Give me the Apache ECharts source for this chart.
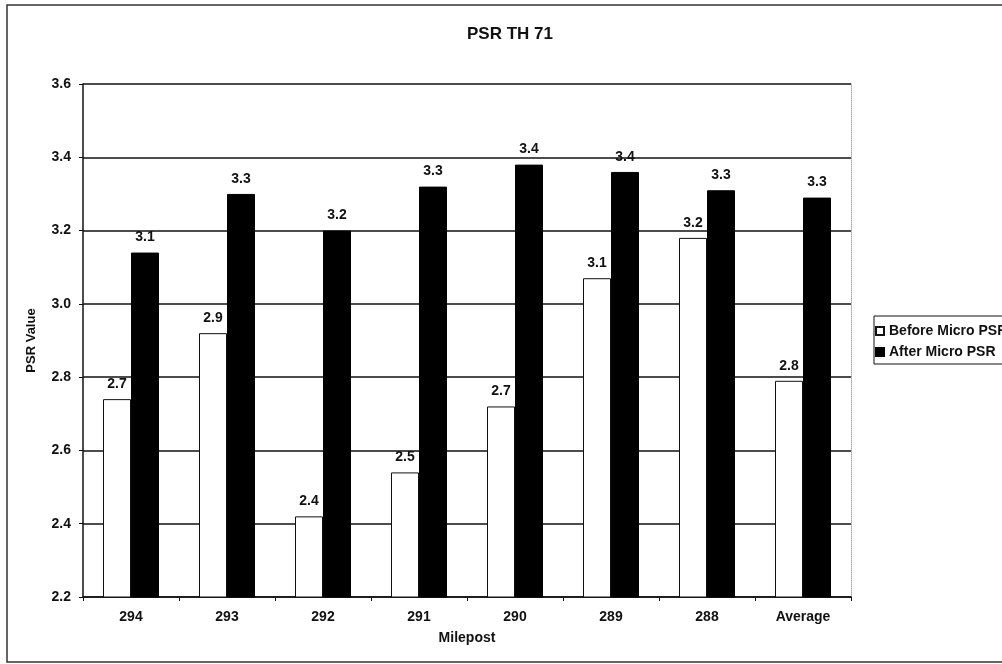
<!DOCTYPE html>
<html>
<head>
<meta charset="utf-8">
<script src="https://cdn.jsdelivr.net/npm/echarts@6/dist/echarts.min.js"></script>
<style>
  html, body { margin: 0; padding: 0; background: #fff; }
  #chart { width: 1002px; height: 664px; }
</style>
</head>
<body>
<div id="chart"></div>
<script>
// Mileposts along TH 71 plus the overall average
const categories = ['294', '293', '292', '291', '290', '289', '288', 'Average'];
// PSR ratings before and after the micro-surfacing treatment
const beforeValues = [2.74, 2.92, 2.42, 2.54, 2.72, 3.07, 3.18, 2.79];
const afterValues = [3.14, 3.30, 3.20, 3.32, 3.38, 3.36, 3.31, 3.29];
const seriesNames = ['Before Micro PSR', 'After Micro PSR'];
const yTicks = { min: 2.2, max: 3.6, step: 0.2 };

const FONT = '"Liberation Sans", Arial, sans-serif';
const chart = echarts.init(document.getElementById('chart'), null, { renderer: 'canvas' });

const valueLabel = {
  show: true,
  position: 'top',
  distance: 8,
  color: '#111',
  fontFamily: FONT,
  fontWeight: 'bold',
  fontSize: 14,
  formatter: p => p.value.toFixed(1)
};

chart.setOption({
  backgroundColor: '#fff',
  animation: false,
  title: {
    text: 'PSR TH 71',
    left: 505,
    top: 21,
    textAlign: 'center',
    textStyle: { fontFamily: FONT, fontWeight: 'bold', fontSize: 17, color: '#111' }
  },
  legend: {
    orient: 'vertical',
    left: 874,
    top: 316,
    padding: [8, 1, 5, 1],
    itemGap: 7,
    itemWidth: 8,
    itemHeight: 8,
    borderColor: '#111',
    borderWidth: 1,
    icon: 'rect',
    textStyle: { fontFamily: FONT, fontWeight: 'bold', fontSize: 14, color: '#111' },
    data: seriesNames
  },
  graphic: [{
    type: 'rect',
    silent: true,
    shape: { x: 7, y: 5, width: 1100, height: 657 },
    style: { fill: null, stroke: '#333', lineWidth: 1.5 }
  }],
  grid: { left: 83, right: 151, top: 84, bottom: 67 },
  xAxis: {
    type: 'category',
    data: categories,
    name: 'Milepost',
    nameLocation: 'middle',
    nameGap: 34,
    nameTextStyle: { fontFamily: FONT, fontWeight: 'bold', fontSize: 14, color: '#111' },
    axisLine: { lineStyle: { color: '#111', width: 1.5 } },
    axisTick: { show: true, length: 4, lineStyle: { color: '#111' } },
    axisLabel: { margin: 13, fontFamily: FONT, fontWeight: 'bold', fontSize: 14, color: '#111' }
  },
  yAxis: [{
    type: 'value',
    min: yTicks.min,
    max: yTicks.max,
    interval: yTicks.step,
    name: 'PSR Value',
    nameLocation: 'middle',
    nameGap: 45,
    nameTextStyle: { fontFamily: FONT, fontWeight: 'bold', fontSize: 13, color: '#111' },
    axisLine: { show: true, lineStyle: { color: '#111', width: 1.5 } },
    axisTick: { show: true, length: 4, lineStyle: { color: '#111' } },
    axisLabel: {
      margin: 12,
      fontFamily: FONT, fontWeight: 'bold', fontSize: 14, color: '#111',
      formatter: v => v.toFixed(1)
    },
    splitLine: { show: true, lineStyle: { color: '#111', width: 1.5 } }
  }, {
    type: 'value',
    position: 'right',
    min: yTicks.min,
    max: yTicks.max,
    interval: yTicks.step,
    axisLine: { show: true, lineStyle: { color: '#aaa', type: 'dotted', width: 1 } },
    axisTick: { show: false },
    axisLabel: { show: false },
    splitLine: { show: false }
  }],
  series: [{
    name: seriesNames[0],
    type: 'bar',
    data: beforeValues,
    barWidth: 28,
    barGap: '0%',
    itemStyle: { color: '#fff', borderColor: '#111', borderWidth: 1 },
    label: valueLabel
  }, {
    name: seriesNames[1],
    type: 'bar',
    data: afterValues,
    barWidth: 28,
    barGap: '0%',
    itemStyle: { color: '#000', borderColor: '#000', borderWidth: 1 },
    label: valueLabel
  }]
});
</script>
</body>
</html>
